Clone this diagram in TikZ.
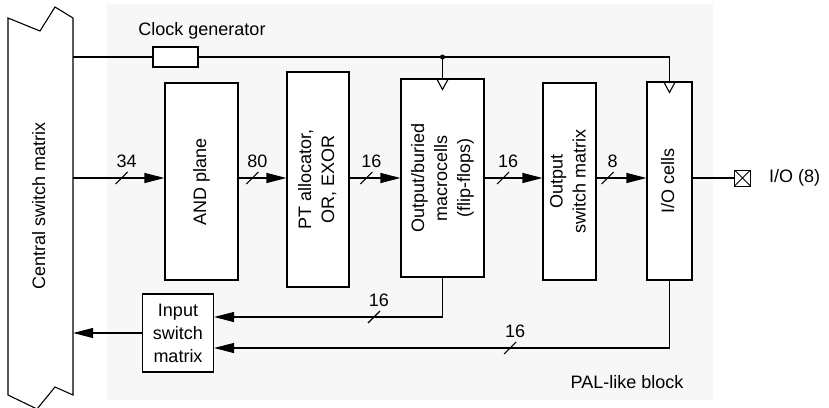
\documentclass[tikz,border=0pt]{standalone}
\usepackage{fontspec}
\setmainfont{Liberation Sans}
\usepackage{graphicx}
\usetikzlibrary{arrows.meta}
\tikzstyle{block} = [draw, fill=white, line width=1.1pt, inner sep=0pt]
\tikzset{bus/.style={line width=1.1pt, -{Triangle[length=20pt,width=10pt]}},
    wire/.style={line width=1.1pt},
    buslabel/.style={inner sep=0pt}}
\newcommand{\vlabel}[1]{\rotatebox{90}{\begin{tabular}{@{}c@{}}#1\end{tabular}}}
\newcommand{\busmark}[3]{%
    \draw[wire] (#1) +(-6,6) -- +(6,-6);
    \node[buslabel] (#2) at ([xshift=5pt,yshift=17pt]#1) {#3};}

\begin{document}
\begin{tikzpicture}[x=1pt, y=-1pt, font=\fontsize{18}{23}\selectfont]
    \useasboundingbox (0,0) rectangle (829,407);
    % PAL-like block background
    \fill[black!3] (107,4) rectangle (713,400);
    \node (pal) at (627,382) {PAL-like block};
    % Central switch matrix
    \draw[wire] (73,18) -- (73,395) -- (55,387) -- (37,409) -- (8,395)
        -- (8,18) -- (40,31) -- (55,7) -- cycle;
    \node[inner sep=0pt, minimum width=65pt, minimum height=377pt] (csm) at (40.5,206)
        {\vlabel{Central switch matrix}};
    % Blocks
    \node[block, minimum width=73pt, minimum height=197pt] (and) at (201.5,181.5) {\vlabel{AND plane}};
    \node[block, minimum width=62pt, minimum height=215pt] (pt) at (318,179.5) {\vlabel{PT allocator,\\OR, EXOR}};
    \node[block, minimum width=83pt, minimum height=198pt] (mac) at (442.5,178)
        {\vlabel{Output/buried\\macrocells\\(flip-flops)}};
    \node[block, minimum width=53pt, minimum height=197pt] (osm) at (569.5,181.5) {\vlabel{Output\\switch matrix}};
    \node[block, minimum width=45pt, minimum height=198pt] (io) at (669.5,181) {\vlabel{I/O cells}};
    \node[block, minimum width=71pt, minimum height=78pt, align=center] (ism) at (178,333) {Input\\switch\\matrix};
    \node[block, minimum width=45pt, minimum height=20pt] (clk) at (175.5,57) {};
    \node (clklabel) at (202,31) {Clock generator};
    \node[draw, line width=1pt, minimum size=16pt, inner sep=0pt,
        path picture={\draw[line width=.8pt] (path picture bounding box.north west) -- (path picture bounding box.south east)
            (path picture bounding box.north east) -- (path picture bounding box.south west);}] (pin) at (742.5,178) {};
    \node[anchor=west, inner sep=0pt] (iolabel) at ([xshift=18pt]pin.east) {I/O (8)};
    % Clock
    \draw[wire] (csm.east |- clk) -- (clk.west);
    \draw[wire] (clk.east) -| (io.north);
    \fill (mac.north |- clk) circle (2.5pt);
    \draw[wire] (mac.north |- clk) -- (mac.north);
    \draw[wire] (mac.north) +(-6,0) -- +(0,11) -- +(6,0);
    \draw[wire] (io.north) +(-6,0) -- +(0,11) -- +(6,0);
    % Data path
    \draw[bus] (csm.east |- mac.west) -- coordinate[pos=.53] (b1) (and.west |- mac.west);
    \draw[bus] (and.east |- mac.west) -- coordinate[pos=.29] (b2) (pt.west |- mac.west);
    \draw[bus] (pt.east |- mac.west) -- coordinate[pos=.33] (b3) (mac.west);
    \draw[bus] (mac.east) -- coordinate[pos=.32] (b4) (osm.west |- mac.east);
    \draw[bus] (osm.east |- mac.east) -- coordinate[pos=.22] (b5) (io.west |- mac.east);
    \draw[wire] (io.east |- mac.east) -- (pin.west);
    % Feedback
    \draw[bus] (mac.south) |- coordinate[pos=.65] (b6) ([yshift=16pt]ism.east);
    \draw[bus] (io.south) |- coordinate[pos=.675] (b7) ([yshift=-15pt]ism.east);
    \draw[bus] (ism.west) -- (csm.east |- ism.west);
    % Bus widths
    \busmark{b1}{w1}{34}
    \busmark{b2}{w2}{80}
    \busmark{b3}{w3}{16}
    \busmark{b4}{w4}{16}
    \busmark{b5}{w5}{8}
    \busmark{b6}{w6}{16}
    \busmark{b7}{w7}{16}
\end{tikzpicture}
\end{document}
